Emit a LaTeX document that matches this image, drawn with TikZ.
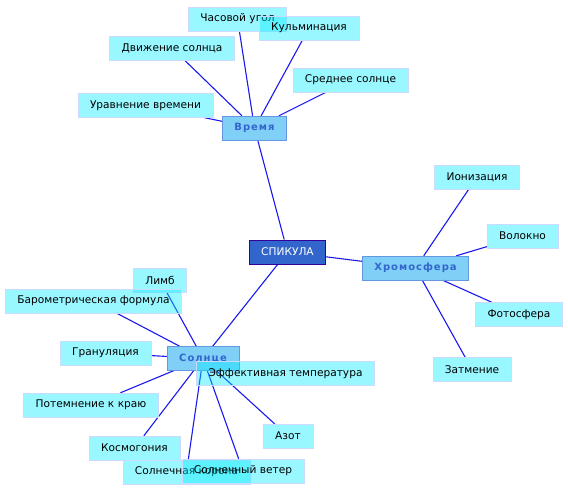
\documentclass[tikz,border=0pt]{standalone}
\usepackage{fontspec}
\setmainfont{DejaVu Sans}
\usetikzlibrary{backgrounds}
\definecolor{MMLine}{RGB}{25, 25, 240}
\definecolor{MMLeaf}{RGB}{0, 236, 255}
\definecolor{MMLeafEdge}{RGB}{205, 218, 255}
\definecolor{MMTopic}{RGB}{0, 160, 240}
\definecolor{MMTopicEdge}{RGB}{100, 150, 225}
\definecolor{MMTopicText}{RGB}{51, 102, 204}
\definecolor{MMRoot}{RGB}{51, 102, 204}
\definecolor{MMRootEdge}{RGB}{51, 0, 153}

\begin{document}
\begin{tikzpicture}[
  x=1pt, y=-1pt,
  every node/.style={font=\fontsize{10.6}{12}\selectfont},
  leaf/.style={draw=MMLeafEdge, fill=MMLeaf, fill opacity=0.4, text opacity=1,
               minimum height=24pt, inner xsep=12pt, inner ysep=0pt},
  topic/.style={draw=MMTopicEdge, fill=MMTopic, fill opacity=0.5, text opacity=1,
                text=MMTopicText, minimum height=24pt, inner xsep=12pt, inner ysep=0pt,
                font=\fontsize{10}{12}\selectfont\bfseries\addfontfeature{LetterSpace=10}},
  root/.style={draw=MMRootEdge, thick, fill=MMRoot, text=white,
               minimum height=24pt, inner xsep=12pt, inner ysep=0pt},
  link/.style={draw=MMLine, line width=1.1pt}
]
  \useasboundingbox (0,0) rectangle (568,491);

  %% Nodes
  \node[root]  (spik)   at (287.5, 252)   {СПИКУЛА};
  \node[topic] (vrem)   at (254.5, 128)   {Время};
  \node[topic] (chrom)  at (415.5, 268)   {Хромосфера};
  \node[topic] (sun)    at (203, 358.5)   {Солнце};

  \node[leaf]  (chas)   at (237.5, 19)    {Часовой угол};
  \node[leaf]  (kulm)   at (309, 28)      {Кульминация};
  \node[leaf]  (dvizh)  at (172, 48)      {Движение солнца};
  \node[leaf]  (sred)   at (350.5, 80)    {Среднее солнце};
  \node[leaf]  (urav)   at (145.5, 105.5) {Уравнение времени};

  \node[leaf]  (ion)    at (477, 177)     {Ионизация};
  \node[leaf]  (volok)  at (522.5, 236)   {Волокно};
  \node[leaf]  (foto)   at (519, 314.5)   {Фотосфера};
  \node[leaf]  (zatm)   at (472, 369.5)   {Затмение};

  \node[leaf]  (limb)   at (160, 280)     {Лимб};
  \node[leaf]  (baro)   at (93.5, 301)    {Барометрическая формула};
  \node[leaf]  (granul) at (105.5, 353)   {Грануляция};
  \node[leaf]  (effekt) at (285.5, 373.5) {Эффективная температура};
  \node[leaf]  (potem)  at (91, 405)      {Потемнение к краю};
  \node[leaf]  (azot)   at (288, 436)     {Азот};
  \node[leaf]  (kosm)   at (134.5, 448)   {Космогония};
  \node[leaf]  (korona) at (186.5, 472)   {Солнечная корона};
  \node[leaf]  (veter)  at (243, 471)     {Солнечный ветер};

  %% Links (under the boxes)
  \begin{scope}[on background layer]
    \draw[link] (spik) -- (vrem);
    \draw[link] (spik) -- (chrom);
    \draw[link] (spik) -- (sun);

    \draw[link] (vrem) -- (chas);
    \draw[link] (vrem) -- (kulm);
    \draw[link] (vrem) -- (dvizh);
    \draw[link] (vrem) -- (sred);
    \draw[link] (vrem) -- (urav);

    \draw[link] (chrom) -- (ion);
    \draw[link] (chrom) -- (volok);
    \draw[link] (chrom) -- (foto);
    \draw[link] (chrom) -- (zatm);

    \draw[link] (sun) -- (limb);
    \draw[link] (sun) -- (baro);
    \draw[link] (sun) -- (granul);
    \draw[link] (sun) -- (potem);
    \draw[link] (sun) -- (azot);
    \draw[link] (sun) -- (kosm);
    \draw[link] (sun) -- (korona);
    \draw[link] (sun) -- (veter);
  \end{scope}
\end{tikzpicture}
\end{document}
